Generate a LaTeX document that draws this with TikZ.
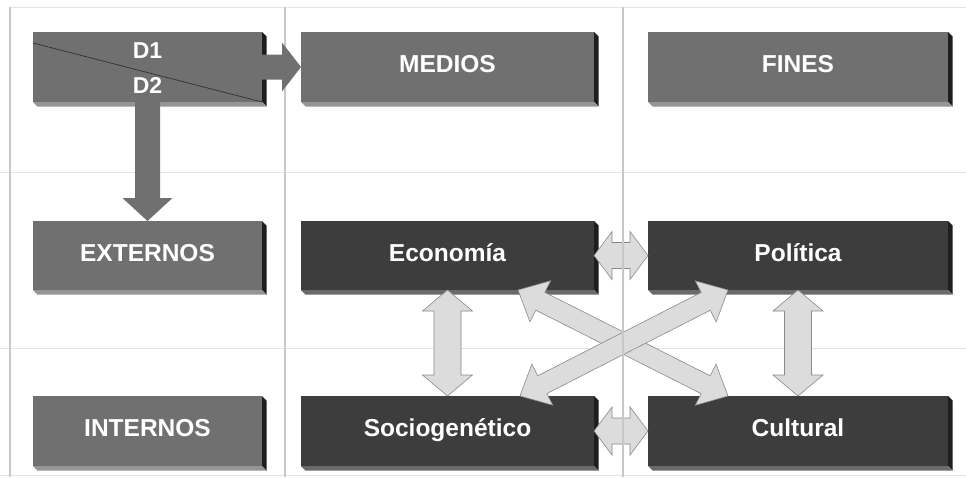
\documentclass[tikz,border=0pt]{standalone}
\usepackage{fontspec}
\setmainfont{Liberation Sans}
\usetikzlibrary{calc}
\definecolor{medg}{HTML}{707070}
\definecolor{darkg}{HTML}{3D3D3D}
\definecolor{sidef}{HTML}{1E1E1E}
\definecolor{botm}{HTML}{959595}
\definecolor{botd}{HTML}{6A6A6A}
\definecolor{lightarr}{HTML}{DCDCDC}
\definecolor{lightedge}{HTML}{8A8A8A}
\definecolor{gridv}{HTML}{C8C8C8}
\definecolor{gridh}{HTML}{E4E4E4}

% 3D extrusion of a box node: right face and bottom face
\newcommand{\threed}[2]{%
  \fill[sidef] (#1.north east) -- ($(#1.north east)+(4.5,4.5)$) -- ($(#1.south east)+(4.5,4.5)$) -- (#1.south east) -- cycle;
  \fill[#2] (#1.south west) -- (#1.south east) -- ($(#1.south east)+(4.5,4.5)$) -- ($(#1.south west)+(4.5,4.5)$) -- cycle;
}
% double block arrow: from, to, shaft half width, head half width, head length, style
\newcommand{\dblblock}[6]{%
  \coordinate (hA) at ($(#1)!#5pt!(#2)$);
  \coordinate (hB) at ($(#2)!#5pt!(#1)$);
  \filldraw[#6] (#1) -- ($(hA)!#4pt!90:(#2)$) -- ($(hA)!#3pt!90:(#2)$) -- ($(hB)!#3pt!-90:(#1)$) -- ($(hB)!#4pt!-90:(#1)$)
    -- (#2) -- ($(hB)!#4pt!90:(#1)$) -- ($(hB)!#3pt!90:(#1)$) -- ($(hA)!#3pt!-90:(#2)$) -- ($(hA)!#4pt!-90:(#2)$) -- cycle;
}
% single block arrow: from, to, shaft half width, head half width, head length, style
\newcommand{\oneblock}[6]{%
  \coordinate (hB) at ($(#2)!#5pt!(#1)$);
  \fill[#6] ($(#1)!#3pt!90:(#2)$) -- ($(hB)!#3pt!-90:(#1)$) -- ($(hB)!#4pt!-90:(#1)$) -- (#2)
    -- ($(hB)!#4pt!90:(#1)$) -- ($(hB)!#3pt!90:(#1)$) -- ($(#1)!#3pt!-90:(#2)$) -- cycle;
}

\begin{document}
\begin{tikzpicture}[x=1pt,y=-1pt,
  boxbase/.style={rectangle, inner sep=0pt, outer sep=0pt, text=white,
    font=\fontsize{24.5}{29}\selectfont\bfseries, text height=17.5pt, text depth=6pt},
  medbox/.style={boxbase, fill=medg},
  darkbox/.style={boxbase, fill=darkg},
  dlabel/.style={inner sep=0pt, text=white, font=\fontsize{23}{27}\selectfont\bfseries},
  lightarrow/.style={fill=lightarr, draw=lightedge, line width=0.6pt, line join=miter},
  blockarrow/.style={fill=medg},
  hline/.style={draw=gridh, line width=1pt},
  vline/.style={draw=gridv, line width=1.3pt}
]
\useasboundingbox (0,0) rectangle (966,477);
\fill[white] (0,0) rectangle (966,477);

% horizontal grid lines
\draw[hline] (10,7) -- (966,7);
\draw[hline] (0,172) -- (966,172);
\draw[hline] (0,348) -- (966,348);
\draw[hline] (0,475.5) -- (966,475.5);

% boxes
\node[medbox, minimum width=229pt, minimum height=70pt] (d) at (147.5,67) {};
\node[medbox, minimum width=293pt, minimum height=70pt] (medios) at (447.5,67) {MEDIOS};
\node[medbox, minimum width=300pt, minimum height=70pt] (fines) at (798,67) {FINES};
\node[medbox, minimum width=229pt, minimum height=69pt] (ext) at (147.5,255.5) {EXTERNOS};
\node[darkbox, minimum width=293pt, minimum height=69pt] (eco) at (447.5,255.5) {Economía};
\node[darkbox, minimum width=300pt, minimum height=69pt] (pol) at (798,255.5) {Política};
\node[medbox, minimum width=229pt, minimum height=70pt] (int) at (147.5,431) {INTERNOS};
\node[darkbox, minimum width=293pt, minimum height=70pt] (soc) at (447.5,431) {Sociogenético};
\node[darkbox, minimum width=300pt, minimum height=70pt] (cul) at (798,431) {Cultural};

\threed{d}{botm}
\threed{medios}{botm}
\threed{fines}{botm}
\threed{ext}{botm}
\threed{int}{botm}
\threed{eco}{botd}
\threed{pol}{botd}
\threed{soc}{botd}
\threed{cul}{botd}

% D1 / D2 split
\coordinate (dsplit) at ($(d.north west)+(0,11)$);
\draw[draw=darkg!80!black, line width=0.7pt] (dsplit) -- (d.south east);
\node[dlabel] (d1) at (147.5,50.5) {D1};
\node[dlabel] (d2) at (147.5,85) {D2};

% light double arrows
\dblblock{eco.east}{pol.west}{13}{24}{18}{lightarrow}
\dblblock{soc.east}{cul.west}{13}{24}{18}{lightarrow}
\dblblock{eco.south}{soc.north}{13.5}{25}{21}{lightarrow}
\dblblock{pol.south}{cul.north}{13.5}{25}{21}{lightarrow}

\coordinate (x1) at ($(eco.south west)+(217,0)$);
\coordinate (x2) at ($(cul.north west)+(80,0)$);
\coordinate (x3) at ($(soc.north west)+(219,0)$);
\coordinate (x4) at ($(pol.south west)+(80,0)$);
\dblblock{x1}{x2}{10}{23}{25}{lightarrow}
\dblblock{x3}{x4}{10}{23}{25}{lightarrow}

% vertical grid lines
\draw[vline] (10,7) -- (10,477);
\draw[vline] (285,7) -- (285,477);
\draw[vline] (623,7) -- (623,477);

% block arrows from D1/D2
\oneblock{d.east}{medios.west}{12.5}{24.5}{19}{blockarrow}
\oneblock{d.south}{ext.north}{12.5}{25}{23}{blockarrow}
\end{tikzpicture}
\end{document}
